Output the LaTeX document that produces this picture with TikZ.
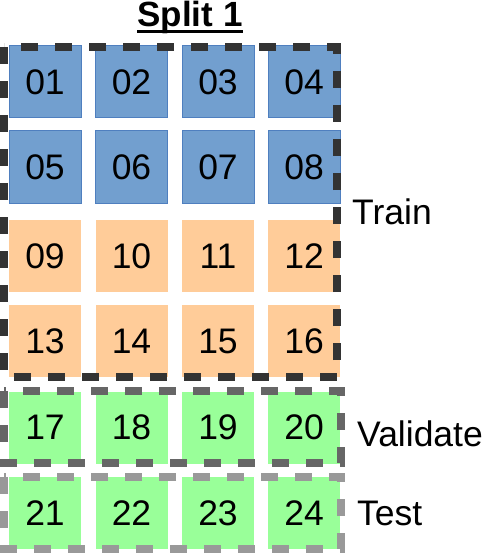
\documentclass[tikz,border=0pt]{standalone}
\usepackage{fontspec}
\setmainfont{Liberation Sans}
\definecolor{bluefill}{HTML}{729FCF}
\definecolor{blueline}{HTML}{4F7FBF}
\definecolor{orangefill}{HTML}{FFCC99}
\definecolor{greenfill}{HTML}{99FF99}
\definecolor{dashA}{HTML}{333333}
\definecolor{dashB}{HTML}{666666}
\definecolor{dashC}{HTML}{999999}
\begin{document}
\begin{tikzpicture}[x=1pt,y=-1pt,
  cell/.style={minimum width=72pt,minimum height=72pt,inner sep=0pt,font=\fontsize{35.5}{38}\selectfont,text depth=0pt},
  bluecell/.style={cell,fill=bluefill,draw=blueline,line width=1pt},
  orangecell/.style={cell,fill=orangefill},
  greencell/.style={cell,fill=greenfill},
  splitbox/.style={line width=8pt,dash pattern=on 17pt off 17pt},
  lab/.style={anchor=west,inner sep=0pt,font=\fontsize{35.5}{40}\selectfont}]
\useasboundingbox (0,0) rectangle (484,553);
% cells
\foreach \r/\y in {0/82,1/167}{
  \foreach \c/\x in {0/45,1/131.5,2/218,3/304}{
    \pgfmathtruncatemacro{\n}{\r*4+\c+1}
    \node[bluecell] (b\n) at (\x,\y) {0\n};
  }}
\foreach \r/\y in {2/256,3/341}{
  \foreach \c/\x in {0/45,1/131.5,2/218,3/304}{
    \pgfmathtruncatemacro{\n}{\r*4+\c+1}
    \ifnum\n<10
      \node[orangecell] (b\n) at (\x,\y) {0\n};
    \else
      \node[orangecell] (b\n) at (\x,\y) {\n};
    \fi
  }}
\foreach \r/\y in {4/427.5,5/513}{
  \foreach \c/\x in {0/45,1/131.5,2/218,3/304}{
    \pgfmathtruncatemacro{\n}{\r*4+\c+1}
    \node[greencell] (b\n) at (\x,\y) {\n};
  }}
% split boxes
\draw[splitbox,draw=dashA] (4,47) rectangle (337,377);
\draw[splitbox,draw=dashB] (4,391) rectangle (341,463);
\draw[splitbox,draw=dashC] (4,477) rectangle (341,549);
% title
\node[anchor=base,inner sep=0pt,font=\fontsize{35}{38}\selectfont\bfseries] (title) at (190,27) {Split 1};
\draw[line width=3pt] ([yshift=-4.5pt]title.base west) -- ([yshift=-4.5pt]title.base east);
% labels
\node[lab] (train) at (352,212) {Train};
\node[lab] (validate) at (357,434) {Validate};
\node[lab] (test) at (357,513) {Test};
\end{tikzpicture}
\end{document}
